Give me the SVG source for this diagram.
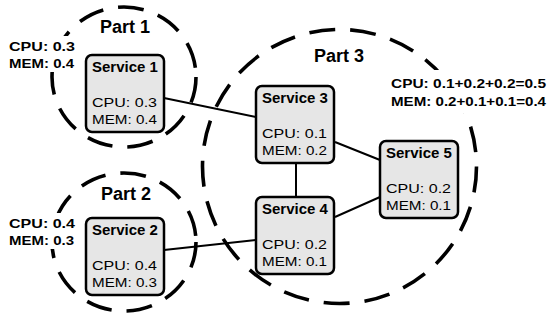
<svg xmlns="http://www.w3.org/2000/svg" width="547" height="321" viewBox="0 0 547 321">
<style>
.part{fill:none;stroke:#000;stroke-width:3.6;stroke-dasharray:26 15}
.box{fill:#e6e6e6;stroke:#000;stroke-width:2.5}
.edge{stroke:#000;stroke-width:2;fill:none}
.bg{fill:#fff}
.t{font-family:"Liberation Sans",Arial,sans-serif;font-weight:bold;font-size:15px;fill:#000}
.v{font-family:"Liberation Sans",Arial,sans-serif;font-size:13px;fill:#000}
.pl{font-family:"Liberation Sans",Arial,sans-serif;font-weight:bold;font-size:18px;fill:#000;text-anchor:middle}
.sl{font-family:"Liberation Sans",Arial,sans-serif;font-weight:bold;font-size:13px;fill:#000}
</style>
<rect width="547" height="321" fill="#fff"/>
<g id="part1">
<ellipse class="part" cx="124" cy="77" rx="72" ry="70"/>
<text class="pl" x="125" y="33">Part 1</text>
<rect class="bg" x="6" y="36" width="72" height="36"/>
<text class="sl" x="9" y="51" textLength="66" lengthAdjust="spacingAndGlyphs">CPU:  0.3</text>
<text class="sl" x="9" y="68" textLength="65" lengthAdjust="spacingAndGlyphs">MEM: 0.4</text>
</g>
<g id="part2">
<ellipse class="part" cx="124" cy="242" rx="72" ry="69"/>
<text class="pl" x="126" y="200">Part 2</text>
<rect class="bg" x="6" y="213" width="72" height="36"/>
<text class="sl" x="9" y="228" textLength="66" lengthAdjust="spacingAndGlyphs">CPU:  0.4</text>
<text class="sl" x="9" y="245" textLength="65" lengthAdjust="spacingAndGlyphs">MEM: 0.3</text>
</g>
<g id="part3">
<ellipse class="part" cx="339.5" cy="166.5" rx="137" ry="137" stroke-dasharray="28 17"/>
<text class="pl" x="339" y="62">Part 3</text>
<rect class="bg" x="388" y="70" width="159" height="43"/>
<text class="sl" x="391" y="88" textLength="155" lengthAdjust="spacingAndGlyphs">CPU:  0.1+0.2+0.2=0.5</text>
<text class="sl" x="391" y="106" textLength="155" lengthAdjust="spacingAndGlyphs">MEM: 0.2+0.1+0.1=0.4</text>
</g>
<g id="connectors">
<line class="edge" x1="164" y1="98" x2="256" y2="117"/>
<line class="edge" x1="296" y1="163" x2="296" y2="197"/>
<line class="edge" x1="335" y1="142" x2="380" y2="160"/>
<line class="edge" x1="335" y1="217" x2="380" y2="197"/>
<line class="edge" x1="164" y1="250" x2="256" y2="240"/>
</g>
<g id="service1">
<rect class="box" x="86" y="55" width="78" height="77" rx="6"/>
<text class="t" x="92" y="72">Service 1</text>
<text class="v" x="92" y="107" textLength="65" lengthAdjust="spacingAndGlyphs">CPU:  0.3</text>
<text class="v" x="92" y="124" textLength="65" lengthAdjust="spacingAndGlyphs">MEM: 0.4</text>
</g>
<g id="service2">
<rect class="box" x="86" y="218" width="78" height="77" rx="6"/>
<text class="t" x="92" y="235">Service 2</text>
<text class="v" x="92" y="270" textLength="65" lengthAdjust="spacingAndGlyphs">CPU:  0.4</text>
<text class="v" x="92" y="287" textLength="65" lengthAdjust="spacingAndGlyphs">MEM: 0.3</text>
</g>
<g id="service3">
<rect class="box" x="256" y="86" width="78" height="77" rx="6"/>
<text class="t" x="262" y="103">Service 3</text>
<text class="v" x="262" y="138" textLength="65" lengthAdjust="spacingAndGlyphs">CPU:  0.1</text>
<text class="v" x="262" y="155" textLength="65" lengthAdjust="spacingAndGlyphs">MEM: 0.2</text>
</g>
<g id="service4">
<rect class="box" x="256" y="197" width="78" height="77" rx="6"/>
<text class="t" x="262" y="214">Service 4</text>
<text class="v" x="262" y="249" textLength="65" lengthAdjust="spacingAndGlyphs">CPU:  0.2</text>
<text class="v" x="262" y="266" textLength="65" lengthAdjust="spacingAndGlyphs">MEM: 0.1</text>
</g>
<g id="service5">
<rect class="box" x="380" y="141" width="78" height="77" rx="6"/>
<text class="t" x="386" y="158">Service 5</text>
<text class="v" x="386" y="193" textLength="65" lengthAdjust="spacingAndGlyphs">CPU:  0.2</text>
<text class="v" x="386" y="210" textLength="65" lengthAdjust="spacingAndGlyphs">MEM: 0.1</text>
</g>
</svg>
